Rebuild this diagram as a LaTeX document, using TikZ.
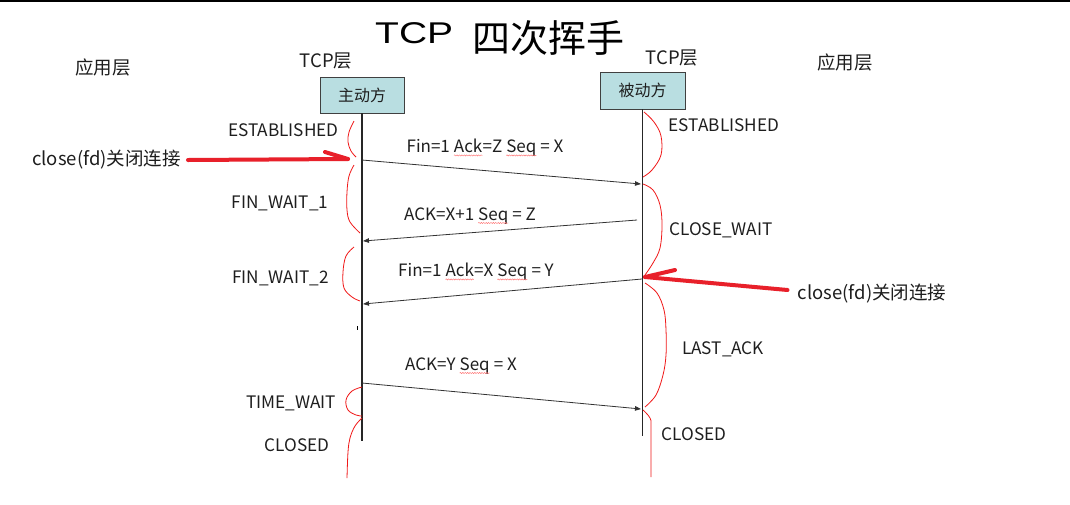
\documentclass[tikz,border=0pt]{standalone}
\usepackage{fontspec}
\usepackage{graphicx}
\setmainfont{Noto Sans CJK SC}
\newfontfamily\titlefont{Liberation Sans}
\usetikzlibrary{arrows.meta,decorations.pathmorphing}
\definecolor{boxfill}{HTML}{B9DEE1}
\definecolor{txt}{HTML}{1E1E1E}
\definecolor{bracered}{HTML}{F01818}
\definecolor{calloutred}{HTML}{E8202A}

% spell-check style wavy underline under a word
\newcommand\wavy[1]{\begin{tikzpicture}[baseline=(w.base)]
  \node[inner sep=0pt,outer sep=0pt] (w) {#1};
  \draw[decorate,decoration={snake,amplitude=0.6pt,segment length=2.4pt},
        draw=red!55!white,line width=0.45pt]
    ([yshift=-2.6pt]w.base west) -- ([yshift=-2.6pt]w.base east);
\end{tikzpicture}}

\begin{document}
\begin{tikzpicture}[x=1pt,y=-1pt,
  heading/.style={font=\fontsize{18.5}{20}\selectfont, text=txt, inner sep=0pt},
  statelbl/.style={font=\fontsize{17.2}{19}\selectfont, text=txt, inner sep=0pt},
  msglbl/.style={font=\fontsize{17}{19}\selectfont, text=txt, inner sep=0pt},
  party/.style={draw=black!75, fill=boxfill, line width=0.9pt, inner sep=0pt,
                minimum width=84pt, minimum height=36pt,
                font=\fontsize{16}{18}\selectfont, text=txt},
  lifeline/.style={line width=1.4pt, draw=black!85},
  msgarrow/.style={line width=0.8pt, draw=black!80,
                   -{Triangle[length=6pt,width=4.5pt]}},
  redbrace/.style={draw=bracered, line width=0.8pt},
  redarrow/.style={draw=calloutred, line width=4pt, line cap=round},
]
\useasboundingbox (0,0) rectangle (1070,504);
\fill[white] (0,0) rectangle (1070,504);
\draw[line width=2pt] (0,1) -- (1070,1);

% title
\node[inner sep=0pt, anchor=base west] (titleA) at (375,43)
  {\titlefont\fontsize{30}{30}\selectfont\scalebox{1.3}[1]{TCP}};
\node[inner sep=0pt] (titleB) at (548,38) {\fontsize{38}{40}\selectfont 四次挥手};

% layer headings
\node[heading] (appL) at (103,67) {应用层};
\node[heading] (appR) at (845,62) {应用层};
\node[heading] (tcpL) at (326,61) {TCP层};
\node[heading] (tcpR) at (672,58) {TCP层};

% the two endpoints and their lifelines
\node[party] (act) at (362,95) {主动方};
\node[party, minimum width=85pt, minimum height=37pt] (pas) at (642.5,90.5) {被动方};
\coordinate (actEnd) at (362,441);
\coordinate (pasEnd) at (642.5,436);
\draw[lifeline] (act.south) -- (actEnd);
\draw[lifeline] (pas.south) -- (pasEnd);
\draw[line width=1pt] (357,326) -- (357,330);

% segment messages
\coordinate (m1a) at (362,160);   \coordinate (m1b) at (641,184);
\coordinate (m2a) at (637,220);   \coordinate (m2b) at (363,241);
\coordinate (m3a) at (642,279);   \coordinate (m3b) at (363,304);
\coordinate (m4a) at (362,383);   \coordinate (m4b) at (641,409);
\draw[msgarrow] (m1a) -- (m1b);
\draw[msgarrow] (m2a) -- (m2b);
\draw[msgarrow] (m3a) -- (m3b);
\draw[msgarrow] (m4a) -- (m4b);
\node[msglbl] (l1) at (485,148) {Fin=1 \wavy{Ack}=Z \wavy{Seq} = X};
\node[msglbl] (l2) at (470,216) {ACK=X+1 \wavy{Seq} = Z};
\node[msglbl] (l3) at (476,272) {Fin=1 \wavy{Ack}=X \wavy{Seq} = Y};
\node[msglbl] (l4) at (461,366) {ACK=Y \wavy{Seq} = X};

% connection states
\node[statelbl] (sEstL)  at (283.5,130) {ESTABLISHED};
\node[statelbl] (sFw1)   at (280,203)   {FIN\_WAIT\_1};
\node[statelbl] (sFw2)   at (280.5,278) {FIN\_WAIT\_2};
\node[statelbl] (sTw)    at (291,403)   {TIME\_WAIT};
\node[statelbl] (sClL)   at (297,445)   {CLOSED};
\node[statelbl] (sEstR)  at (724,125)   {ESTABLISHED};
\node[statelbl] (sCw)    at (721,230)   {CLOSE\_WAIT};
\node[statelbl] (sLa)    at (723,349)   {LAST\_ACK};
\node[statelbl] (sClR)   at (694,434)   {CLOSED};

% hand-drawn state brackets, active side
\draw[redbrace] plot[smooth,tension=0.6] coordinates
  {(354,121) (349,132) (348,142) (351,151) (356,157)};
\draw[redbrace] plot[smooth,tension=0.6] coordinates
  {(354,165) (349,176) (347,192) (347,210) (350,222) (360,233)};
\draw[redbrace] plot[smooth,tension=0.6] coordinates
  {(354,247) (346,256) (343,272) (344,288) (352,297) (360,301)};
\draw[redbrace] plot[smooth,tension=0.6] coordinates
  {(362,387) (352,391) (346,400) (348,410) (356,415) (362,416)};
\draw[redbrace] plot[smooth,tension=0.6] coordinates
  {(362,418) (355,426) (350,438) (348,452) (347,478)};

% hand-drawn state brackets, passive side
\draw[redbrace] plot[smooth,tension=0.6] coordinates
  {(644,112) (654,122) (661,136) (661,155) (652,170) (643,177)};
\draw[redbrace] plot[smooth,tension=0.6] coordinates
  {(643,184) (653,190) (660,205) (662,225) (660,248) (653,263) (645,275)};
\draw[redbrace] plot[smooth,tension=0.6] coordinates
  {(645,283) (657,293) (664,310) (666,330) (666,355) (663,375) (656,395) (645,407)};
\draw[redbrace] plot[smooth,tension=0.6] coordinates
  {(643,410) (650,418) (651,428) (651,477)};

% application close calls
\node[heading] (closeL) at (106.5,160) {close(fd)关闭连接};
\node[heading] (closeR) at (872,294)   {close(fd)关闭连接};
\coordinate (tipL) at (348,159);  \coordinate (barbL) at (325,152);
\coordinate (tipR) at (645,277);  \coordinate (barbR) at (675,270);
\draw[redarrow] ([xshift=7pt]closeL.east) -- (tipL);
\draw[redarrow] (barbL) -- (tipL);
\draw[redarrow] ([xshift=-10pt,yshift=4pt]closeR.west) -- (tipR);
\draw[redarrow] (barbR) -- (tipR);
\end{tikzpicture}
\end{document}
